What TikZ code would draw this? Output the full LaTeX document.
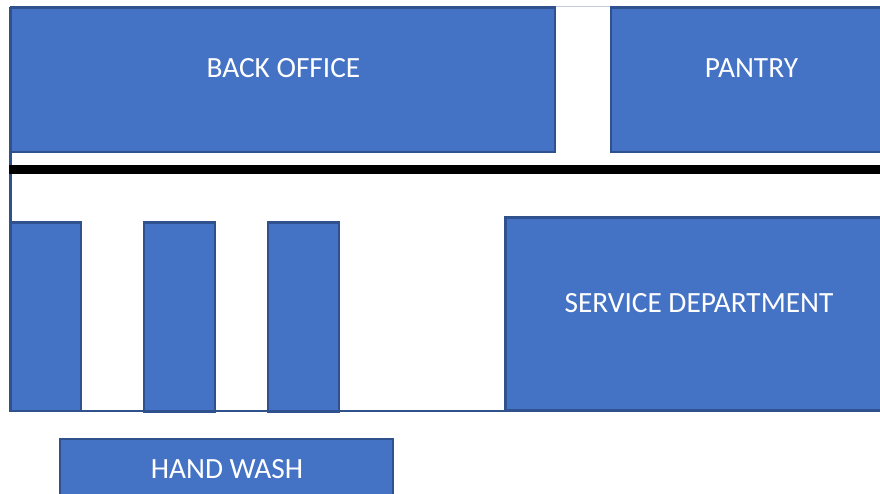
\documentclass[tikz,border=0pt]{standalone}
\usepackage{fontspec}
\setmainfont{Carlito}
\definecolor{roomfill}{HTML}{4472C4}
\definecolor{roomedge}{HTML}{2F528F}
\tikzset{
  room/.style={fill=roomfill,draw=roomedge,line width=1.5pt},
  wall/.style={draw=roomedge,line width=1.3pt},
  label/.style={font=\fontsize{16.7pt}{18pt}\selectfont,text=white,anchor=center}
}
\begin{document}
\begin{tikzpicture}[x=0.02cm,y=-0.02cm]
\useasboundingbox (0,0) rectangle (880,494);
\begin{scope}
\clip (0,0) rectangle (880,494);
\fill[white] (0,0) rectangle (880,494);

\draw[wall] (10.5,7) -- (10.5,411) -- (505,411);
\draw[draw=roomedge!30,line width=0.6pt] (555,6.5) -- (611,6.5);

\draw[room] (11,7.5) rectangle (555,152);
\node[label] (backoffice) at (283.5,68) {BACK OFFICE};
\draw[room] (611,7.5) rectangle (890,152);
\node[label] (pantry) at (751.5,68) {PANTRY};

\draw[black,line width=5.2pt] (9,169.5) -- (890,169.5);

\draw[room] (10.5,222.5) rectangle (81,411);
\draw[room] (144,222.5) rectangle (215,411.5);
\draw[room] (268,222.5) rectangle (339,411.5);
\draw[room] (505.5,217.5) rectangle (890,410.5);
\node[label] (service) at (699,303) {SERVICE DEPARTMENT};

\draw[room] (60,439) rectangle (393,510);
\node[label] (handwash) at (227,469) {HAND WASH};
\end{scope}
\end{tikzpicture}
\end{document}
